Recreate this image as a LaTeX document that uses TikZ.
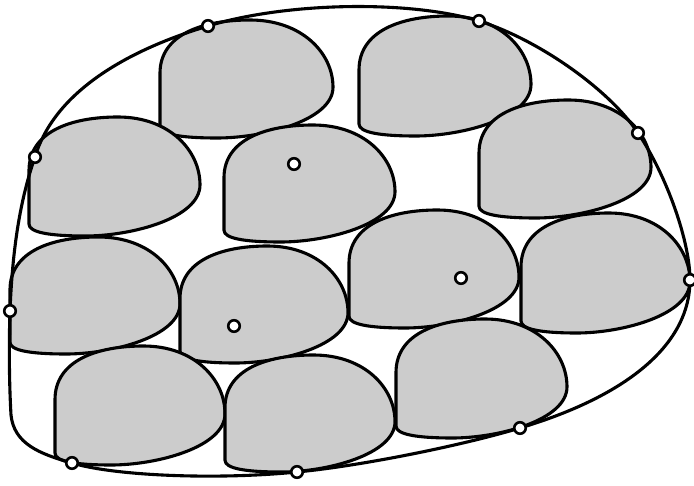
\documentclass[tikz,border=0pt]{standalone}
\begin{document}
\definecolor{loafgray}{RGB}{204,204,204}
\tikzset{
  loafstyle/.style={fill=loafgray, draw=black, line width=3.1pt},
  outlinestyle/.style={draw=black, line width=3.1pt},
  dotstyle/.style={circle, draw=black, fill=white, line width=2.6pt, minimum size=11.5pt, inner sep=0pt}
}
\newcommand{\loaf}[4]{%
 \filldraw[loafstyle] (#1,{#2+0.9*(#4-#2)}) -- (#1,{#2+0.45*(#4-#2)})
  .. controls (#1,{#2+0.12*(#4-#2)}) and ({#1+0.25*(#3-#1)},#2) .. ({#1+0.52*(#3-#1)},#2)
  .. controls ({#1+0.82*(#3-#1)},#2) and (#3,{#2+0.28*(#4-#2)}) .. (#3,{#2+0.57*(#4-#2)})
  .. controls (#3,{#2+0.85*(#4-#2)}) and ({#1+0.6*(#3-#1)},#4) .. ({#1+0.33*(#3-#1)},#4)
  .. controls ({#1+0.12*(#3-#1)},#4) and (#1,{#2+0.97*(#4-#2)}) .. cycle;}
\begin{tikzpicture}[x=1pt,y=-1pt]
\useasboundingbox (0,0) rectangle (694,486);
% loaves
\loaf{160}{20}{333}{138}
\loaf{359}{16}{531}{136}
\loaf{29}{117}{200}{236}
\loaf{224}{125}{395}{242}
\loaf{479}{100}{651}{218}
\loaf{10}{237}{180}{354}
\loaf{180}{246}{348}{363}
\loaf{349}{210}{519}{328}
\loaf{521}{213}{690}{333}
\loaf{55}{346}{225}{465}
\loaf{225}{355}{395}{472}
\loaf{396}{319}{567}{438}
% boundary points
\coordinate (p1) at (208,26);
\coordinate (p2) at (479,21);
\coordinate (p3) at (638,133);
\coordinate (p4) at (690,280);
\coordinate (p5) at (520,428);
\coordinate (p6) at (297,472);
\coordinate (p7) at (72,463);
\coordinate (p8) at (10,311);
\coordinate (p9) at (35,157);
\coordinate (pc) at (11,415);
% outline
\draw[outlinestyle] (p9)
  .. controls (52,100) and (112,55) .. (p1)
  .. controls (287,2) and (409,0) .. (p2)
  .. controls (537,39) and (609,89) .. (p3)
  .. controls (667,176) and (690,242) .. (p4)
  .. controls (690,343) and (630,395) .. (p5)
  .. controls (460,446) and (360,466) .. (p6)
  .. controls (217,480) and (115,476) .. (p7)
  .. controls (40,454) and (14,444) .. (pc)
  .. controls (9,380) and (9,340) .. (p8)
  .. controls (12,261) and (17.5,207) .. cycle;
% dots
\node[dotstyle] (d1) at (p1) {};
\node[dotstyle] (d2) at (p2) {};
\node[dotstyle] (d3) at (p3) {};
\node[dotstyle] (d4) at (p4) {};
\node[dotstyle] (d5) at (p5) {};
\node[dotstyle] (d6) at (p6) {};
\node[dotstyle] (d7) at (p7) {};
\node[dotstyle] (d8) at (p8) {};
\node[dotstyle] (d9) at (p9) {};
\node[dotstyle] (c1) at (294,164) {};
\node[dotstyle] (c2) at (234,326) {};
\node[dotstyle] (c3) at (461,278) {};
\end{tikzpicture}
\end{document}
